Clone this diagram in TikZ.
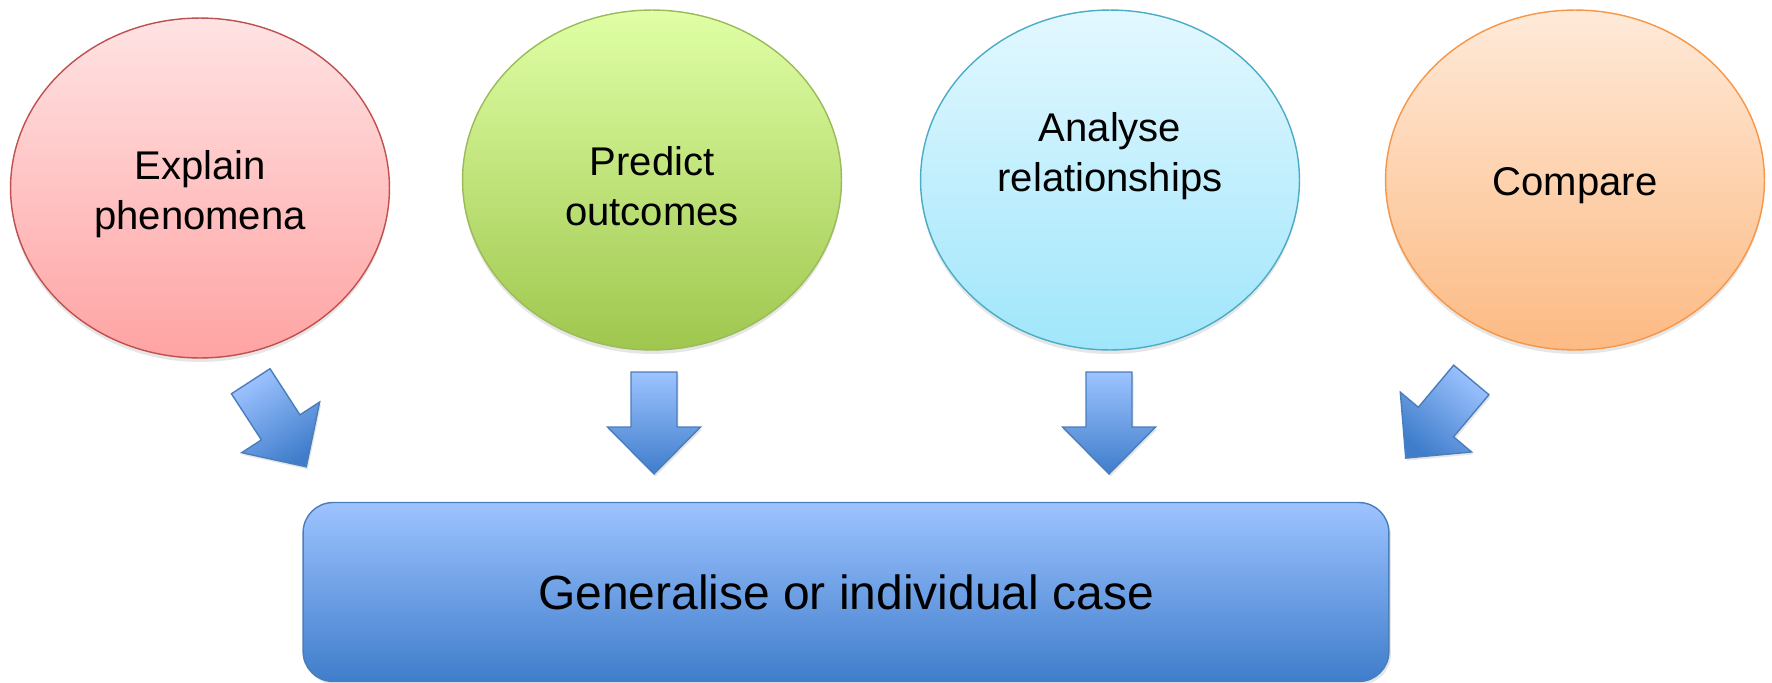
\documentclass[tikz,border=0pt]{standalone}
\usepackage{fontspec}
\setmainfont{Liberation Sans}
\usetikzlibrary{shapes.geometric,shadows}

\definecolor{redtop}{HTML}{FFE3E3}
\definecolor{redbot}{HTML}{FFA3A3}
\definecolor{redline}{HTML}{C0504D}
\definecolor{greentop}{HTML}{E0FFA6}
\definecolor{greenbot}{HTML}{9FC74E}
\definecolor{greenline}{HTML}{9BBB59}
\definecolor{cyantop}{HTML}{E3F8FF}
\definecolor{cyanbot}{HTML}{A0E6FB}
\definecolor{cyanline}{HTML}{4BACC6}
\definecolor{orangetop}{HTML}{FEEAD9}
\definecolor{orangebot}{HTML}{FDBA83}
\definecolor{orangeline}{HTML}{F79646}
\definecolor{bluetop}{HTML}{9DC3FF}
\definecolor{bluebot}{HTML}{3F7DCB}
\definecolor{blueline}{HTML}{4A7EBB}

% block arrow pointing down, centred on #1, turned by #2 degrees
\newcommand{\blockarrow}[2]{%
  \draw[flow, shift={(#1)}, rotate=#2, shading angle=#2]
    (-23,-51) -- (23,-51) -- (23,4) -- (46.5,4) -- (0,51)
    -- (-46.5,4) -- (-23,4) -- cycle;}

\begin{document}
\begin{tikzpicture}[x=0.02cm, y=-0.02cm,
    bubble/.style={ellipse, draw, line width=0.8pt, inner sep=0pt,
      minimum width=7.58cm, minimum height=6.8cm,
      drop shadow={opacity=0.2, shadow xshift=0pt, shadow yshift=-0.08cm}},
    caption/.style={align=center, font=\fontsize{22.8}{28.5}\selectfont},
    flow/.style={draw=blueline, line width=0.8pt, top color=bluetop,
      bottom color=bluebot, line join=miter,
      drop shadow={opacity=0.2, shadow xshift=0.03cm, shadow yshift=-0.05cm}},
    target/.style={rectangle, rounded corners=0.6cm, draw=blueline,
      line width=0.8pt, top color=bluetop, bottom color=bluebot,
      minimum width=21.72cm, minimum height=3.58cm,
      font=\fontsize{27.3}{33}\selectfont,
      drop shadow={opacity=0.2, shadow xshift=0.04cm, shadow yshift=-0.06cm}}]

    \useasboundingbox (0,0) rectangle (1772,683);

    \node[bubble, draw=redline, top color=redtop, bottom color=redbot]
        (explain) at (200,188) {};
    \node[bubble, draw=greenline, top color=greentop, bottom color=greenbot]
        (predict) at (652,180) {};
    \node[bubble, draw=cyanline, top color=cyantop, bottom color=cyanbot]
        (analyse) at (1110,180) {};
    \node[bubble, draw=orangeline, top color=orangetop, bottom color=orangebot]
        (compare) at (1575,180) {};

    \node[caption] (explaintext) at (200,194) {Explain\\phenomena};
    \node[caption] (predicttext) at (652,186) {Predict\\outcomes};
    \node[caption] (analysetext) at (1110,156) {Analyse\\relationships};
    \node[caption] (comparetext) at (1575,186) {Compare};

    \node[target] (general) at (846,592) {Generalise or individual case};

    \coordinate (A1) at (278.5,424); % under explain
    \coordinate (A2) at (654,423);   % under predict
    \coordinate (A3) at (1109,423);  % under analyse
    \coordinate (A4) at (1438.5,419); % under compare

    \blockarrow{A1}{33}
    \blockarrow{A2}{0}
    \blockarrow{A3}{0}
    \blockarrow{A4}{-40}

\end{tikzpicture}
\end{document}
